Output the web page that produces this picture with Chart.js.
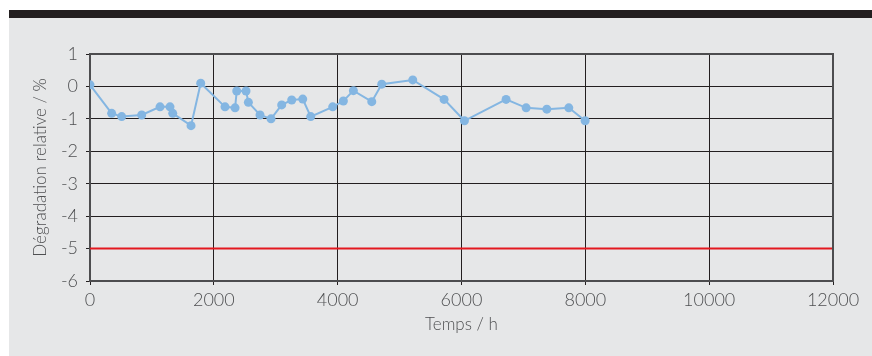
<!DOCTYPE html>
<html>
<head>
<meta charset="utf-8">
<script src="https://cdn.jsdelivr.net/npm/chart.js"></script>
<style>
    body { margin: 0; background: #ffffff; }
    .panel {
        position: absolute; left: 9px; top: 10px; width: 863px; height: 338px;
        border-top: 8px solid #231f20; background: #e6e7e8;
    }
    .wrap { position: absolute; left: 0; top: 0; width: 872px; height: 356px; }
</style>
</head>
<body>
<div class="panel"></div>
<div class="wrap"><canvas id="chart" width="872" height="356"></canvas></div>
<script>
    // Temps (h) et dégradation relative (%)
    const temps = [0, 350, 512, 835, 1131, 1292, 1336, 1632, 1788, 2181, 2343, 2370, 2520, 2558, 2746, 2924, 3096,
        3258, 3436, 3565, 3920, 4092, 4254, 4551, 4712, 5213, 5719, 6047, 6720, 7044, 7378, 7733, 7997];
    const degradation = [0.05, -0.83, -0.93, -0.88, -0.63, -0.63, -0.83, -1.21, 0.10, -0.63, -0.66, -0.14, -0.14, -0.49, -0.88, -1.0, -0.57,
        -0.42, -0.39, -0.93, -0.63, -0.45, -0.13, -0.47, 0.07, 0.20, -0.40, -1.06, -0.40, -0.66, -0.70, -0.66, -1.06];
    // Limite
    const limiteX = [0, 12000];
    const limiteY = [-5, -5];

    const fontFam = "Lato, 'Open Sans', sans-serif";
    const grey = '#4f5052';

    // cadre haut et droit du graphique
    const cadre = {
        id: 'cadre',
        afterDraw(chart) {
            const a = chart.chartArea, c = chart.ctx;
            c.save();
            c.strokeStyle = '#4d4d4f';
            c.lineWidth = 2;
            c.beginPath();
            c.moveTo(a.left, a.top);
            c.lineTo(a.right, a.top);
            c.lineTo(a.right, a.bottom);
            c.stroke();
            c.restore();
        }
    };

    new Chart(document.getElementById('chart'), {
        type: 'scatter',
        data: {
            datasets: [{
                data: limiteX.map((x, i) => ({x: x, y: limiteY[i]})),
                showLine: true,
                borderColor: '#e3181f',
                borderWidth: 2,
                pointRadius: 0
            }, {
                data: temps.map((x, i) => ({x: x, y: degradation[i]})),
                showLine: true,
                borderColor: '#84b6e2',
                backgroundColor: '#84b6e2',
                borderWidth: 2,
                pointRadius: 4.5,
                pointBorderWidth: 0
            }]
        },
        plugins: [cadre],
        options: {
            responsive: false,
            animation: false,
            devicePixelRatio: 1,
            layout: { padding: { left: 0, top: 54, right: 39, bottom: 0 } },
            plugins: { legend: { display: false }, tooltip: { enabled: false } },
            scales: {
                x: {
                    min: 0, max: 12000,
                    afterFit: s => { s.height = 75; },
                    ticks: { stepSize: 2000, color: grey, padding: 4, maxRotation: 0, autoSkip: false,
                        callback: v => String(v),
                        font: { family: fontFam, size: 18, weight: 300 } },
                    grid: { color: '#231f20', lineWidth: 1, tickLength: 4, tickColor: '#231f20' },
                    border: { color: '#4d4d4f', width: 2 },
                    title: { display: true, text: 'Temps / h', color: grey, padding: { bottom: 21 },
                        font: { family: fontFam, size: 17, weight: 300 } }
                },
                y: {
                    min: -6, max: 1,
                    afterFit: s => { s.width = 90; },
                    ticks: { stepSize: 1, color: grey, padding: 8, autoSkip: false,
                        font: { family: fontFam, size: 18, weight: 300 } },
                    grid: { color: '#231f20', lineWidth: 1, tickLength: 4, tickColor: '#231f20' },
                    border: { color: '#4d4d4f', width: 2 },
                    title: { display: true, text: 'Dégradation relative / %', color: grey, padding: { top: 30 },
                        font: { family: fontFam, size: 17, weight: 300 } }
                }
            }
        }
    });
</script>
</body>
</html>
